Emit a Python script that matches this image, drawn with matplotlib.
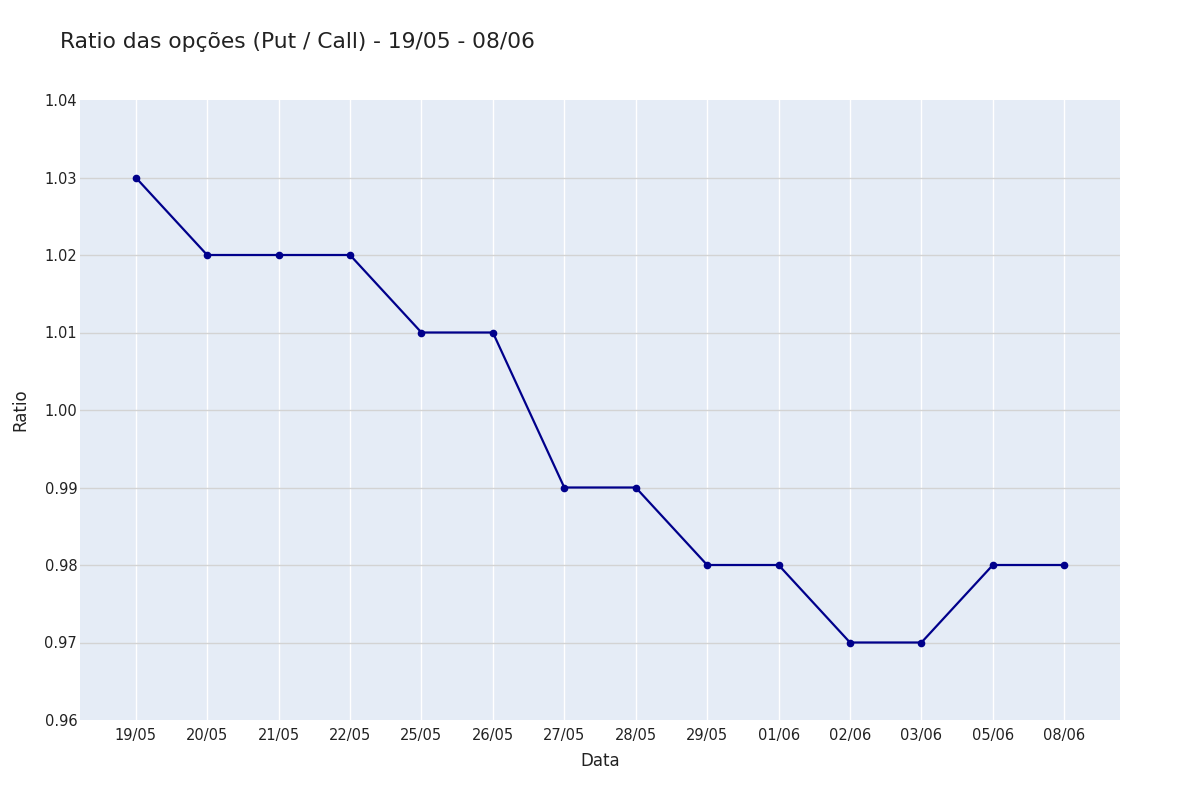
import matplotlib
matplotlib.use('Agg')
import matplotlib.pyplot as plt

# dados do ratio put/call
datas = ['19/05', '20/05', '21/05', '22/05', '25/05', '26/05', '27/05',
         '28/05', '29/05', '01/06', '02/06', '03/06', '05/06', '08/06']
ratio = [1.03, 1.02, 1.02, 1.02, 1.01, 1.01, 0.99,
         0.99, 0.98, 0.98, 0.97, 0.97, 0.98, 0.98]
yticks = [0.96, 0.97, 0.98, 0.99, 1.00, 1.01, 1.02, 1.03, 1.04]

plt.rcParams['font.family'] = ['DejaVu Sans']

fig = plt.figure(figsize=(12, 8), dpi=100)
ax = fig.add_axes([80 / 1200, 80 / 800, 1040 / 1200, 620 / 800])
ax.set_facecolor('#e5ecf6')

x = list(range(len(datas)))
ax.plot(x, ratio, color='#00008b', linewidth=1.6, marker='o', markersize=4.5, zorder=3)

ax.set_xlim(-0.78, len(datas) - 1 + 0.78)
ax.set_ylim(0.96, 1.04)
ax.set_xticks(x)
ax.set_xticklabels(datas)
ax.set_yticks(yticks)
ax.set_yticklabels([f'{v:.2f}' for v in yticks])

ax.grid(axis='x', color='white', linewidth=1)
ax.grid(axis='y', color='#d3d3d3', linewidth=1)
ax.set_axisbelow(True)
# sem linha de grade nas bordas
ygl = ax.yaxis.get_gridlines()
ygl[0].set_visible(False)
ygl[-1].set_visible(False)
for s in ax.spines.values():
    s.set_visible(False)
ax.tick_params(length=0, labelsize=10.5, colors='#222222')
ax.tick_params(axis='x', pad=6)
ax.tick_params(axis='y', pad=2)

ax.set_xlabel('Data', fontsize=12, color='#222222', labelpad=6)
ax.set_ylabel('Ratio', fontsize=12, color='#222222', labelpad=11)

fig.text(60 / 1200, 1 - 42 / 800, 'Ratio das opções (Put / Call) - 19/05 - 08/06',
         fontsize=15.7, color='#222222', va='center', ha='left')

fig.savefig('out.png', dpi=100, facecolor='white')
